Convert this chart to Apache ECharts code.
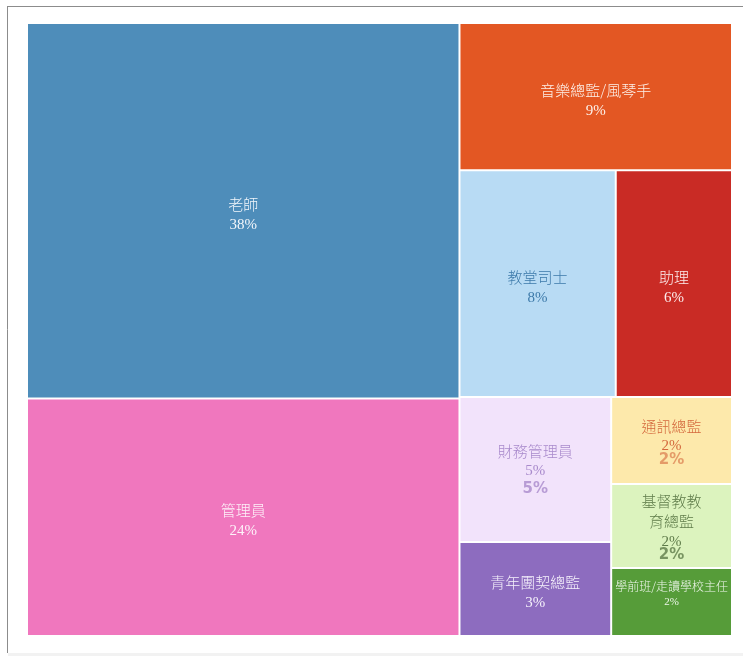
<!DOCTYPE html>
<html>
<head>
<meta charset="utf-8">
<script src="https://cdn.jsdelivr.net/npm/echarts@6/dist/echarts.min.js"></script>
<style>
html,body{margin:0;padding:0;background:#fff;}
#chart{width:743px;height:656px;}
</style>
</head>
<body>
<div id="chart"></div>
<script>
// Data
const names = ['老師','管理員','音樂總監/風琴手','教堂司士','助理','財務管理員','青年團契總監','通訊總監','基督教教育總監','學前班/走讀學校主任'];
const labelNames = ['老師','管理員','音樂總監/風琴手','教堂司士','助理','財務管理員','青年團契總監','通訊總監','基督教教\n育總監','學前班/走讀學校主任'];
const values = [37.6, 23.8, 9.3, 8.2, 6.1, 5.1, 3.3, 2.44, 2.35, 1.9];
const colors = ['#4e8dba','#f077be','#e35723','#b8dbf4','#c92b25','#f2e3fb','#8d6cbf','#fde9ab','#dcf3be','#569c39'];
const textColors = ['#f2f6fb','#fdf2f9','#fdf0e9','#3d7aaa','#fcecec','#a98acc','#f5f1fb','#d4683c','#5f7c4a','#eef6ea'];
const ghost = [false,false,false,false,false,true,false,true,true,false];

const PAD = 5; // default treemap label padding
const textInfo = {};
const chart = echarts.init(document.getElementById('chart'));
const data = names.map((n, i) => {
  const small = i === 9;
  const nLH = 20;
  const pLH = small ? 12 : 21;
  const gLH = i === 5 ? 14 : 6;
  const pct = Math.round(values[i]) + '%';
  const lines = labelNames[i].split('\n');
  let s = lines.map(l => '{n|' + l + '}').join('\n') + '\n{p|' + pct + '}';
  let h = lines.length * nLH + pLH + (small ? 18 : 0);
  if (ghost[i]) { s += '\n{g|' + pct + '}'; h += gLH; }
  textInfo[s] = { h: h, off: (ghost[i] || small) ? -1 : 4 };
  return {
    name: n,
    value: values[i],
    itemStyle: { color: colors[i] },
    label: {
      color: textColors[i],
      formatter: () => s,
      rich: {
        n: { color: textColors[i], fontSize: small ? 12 : 15, lineHeight: nLH, fontFamily: '"Noto Sans CJK TC", sans-serif', fontWeight: 300 },
        p: { color: textColors[i], fontSize: small ? 11 : 15, lineHeight: pLH, fontFamily: '"Liberation Serif", serif' },
        g: { color: textColors[i], fontSize: 15, lineHeight: gLH, fontWeight: 'bold', fontFamily: '"DejaVu Sans", sans-serif', opacity: i === 7 ? 0.6 : 0.8 }
      }
    }
  };
});

chart.setOption({
  animation: false,
  graphic: [
    { type: 'line', shape: { x1: 7.5, y1: 6, x2: 7.5, y2: 653 }, style: { stroke: '#8c8c8c', lineWidth: 1 } },
    { type: 'line', shape: { x1: 7, y1: 6.5, x2: 743, y2: 6.5 }, style: { stroke: '#8c8c8c', lineWidth: 1 } },
    { type: 'rect', shape: { x: 8, y: 653, width: 735, height: 3 }, style: { fill: '#f2f2f2' } }
  ],
  series: [{
    type: 'treemap',
    left: 26, top: 22, right: 10, bottom: 19,
    squareRatio: 1,
    roam: false,
    nodeClick: false,
    breadcrumb: { show: false },
    visibleMin: 0,
    itemStyle: { borderColor: 'rgba(255,255,255,0.7)', borderWidth: 1, gapWidth: 0 },
    label: { show: true, position: ['50%', '50%'], align: 'center', verticalAlign: 'middle', overflow: 'none' },
    labelLayout: function (p) {
      const t = textInfo[p.text];
      if (!t || !p.rect) return {};
      return { y: p.rect.y + (p.rect.height - t.h) / 2 + t.off - PAD, verticalAlign: 'top' };
    },
    data: data
  }]
});
</script>
</body>
</html>
